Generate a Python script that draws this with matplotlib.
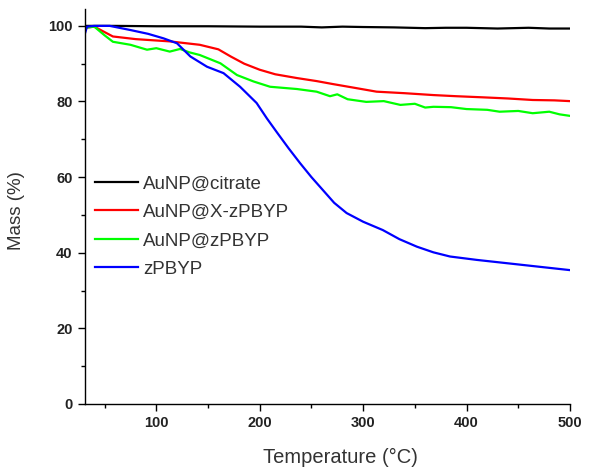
import matplotlib.pyplot as plt
from matplotlib.ticker import MultipleLocator

plt.rcParams["font.family"] = ["Liberation Sans", "DejaVu Sans"]

# temperatures (°C) and mass (%)
t_citrate = [31, 60, 100, 150, 200, 240, 260, 280, 300, 330, 360, 380, 400, 430, 460, 480, 500]
m_citrate = [100, 100, 99.9, 99.9, 99.8, 99.8, 99.6, 99.8, 99.7, 99.6, 99.4, 99.5, 99.5, 99.3, 99.5, 99.3, 99.3]

t_xz = [31, 40, 58, 80, 113, 142, 160, 172, 185, 200, 215, 236, 255, 271, 290, 313, 340, 368, 390, 416, 440, 464, 485, 500]
m_xz = [99.5, 99.8, 97.2, 96.5, 95.9, 95.0, 93.8, 91.9, 90.0, 88.4, 87.2, 86.2, 85.4, 84.6, 83.7, 82.6, 82.2, 81.7, 81.4, 81.1, 80.8, 80.4, 80.3, 80.1]

t_z = [31, 40, 50, 58, 75, 91, 100, 113, 123, 132, 142, 162, 178, 194, 210, 236, 255, 268, 275, 285, 303, 320, 336, 350, 360, 368, 385, 400, 420, 432, 450, 464, 480, 490, 500]
m_z = [99.5, 99.8, 97.5, 95.8, 95.0, 93.7, 94.1, 93.2, 93.9, 93.0, 92.3, 90.1, 87.0, 85.3, 83.9, 83.3, 82.6, 81.4, 81.9, 80.6, 79.9, 80.1, 79.1, 79.4, 78.4, 78.6, 78.5, 78.0, 77.8, 77.3, 77.5, 76.9, 77.3, 76.6, 76.2]

t_zpbyp = [31, 33, 40, 55, 75, 92, 107, 120, 133, 149, 165, 181, 197, 207, 217, 228, 239, 250, 261, 272, 284, 300, 319, 335, 352, 368, 384, 410, 440, 470, 500]
m_zpbyp = [98.0, 99.8, 100, 100, 98.9, 97.9, 96.7, 95.4, 91.9, 89.2, 87.5, 83.9, 79.6, 75.5, 71.7, 67.6, 63.7, 60.0, 56.6, 53.2, 50.5, 48.2, 46.0, 43.6, 41.6, 40.1, 39.0, 38.1, 37.2, 36.3, 35.4]

series = [
    ("AuNP@citrate", t_citrate, m_citrate, "black"),
    ("AuNP@X-zPBYP", t_xz, m_xz, "#ff0000"),
    ("AuNP@zPBYP", t_z, m_z, "#00ff00"),
    ("zPBYP", t_zpbyp, m_zpbyp, "#0000ff"),
]

fig = plt.figure(figsize=(5.9, 4.67), dpi=100)
ax = fig.add_axes([0.144, 0.135, 0.822, 0.846])

for label, t, m, c in series:
    ax.plot(t, m, color=c, lw=1.6, label=label)

ax.set_xlim(31, 500)
ax.set_ylim(0, 104.5)
ax.xaxis.set_major_locator(MultipleLocator(100))
ax.xaxis.set_minor_locator(MultipleLocator(50))
ax.yaxis.set_major_locator(MultipleLocator(20))
ax.yaxis.set_minor_locator(MultipleLocator(10))

for side in ["top", "right"]:
    ax.spines[side].set_visible(False)
for side in ["left", "bottom"]:
    ax.spines[side].set_linewidth(1.0)

ax.tick_params(which="major", direction="out", length=5, width=1, labelsize=10.5,
               pad=4, labelcolor="#222222")
ax.tick_params(which="minor", direction="out", length=3, width=1)
for lab in ax.get_xticklabels() + ax.get_yticklabels():
    lab.set_fontweight("bold")

ax.set_xlabel("Temperature (°C)", fontsize=14.5, color="#333333")
ax.set_ylabel("Mass (%)", fontsize=13.5, color="#333333")
ax.xaxis.set_label_coords(0.526, -0.111)
ax.yaxis.set_label_coords(-0.124, 0.49)

leg = ax.legend(loc="center left", bbox_to_anchor=(0.021, 0.449), frameon=False,
                fontsize=13.5, handlelength=2.3, handletextpad=0.27, labelspacing=0.6,
                borderpad=0, borderaxespad=0)
for txt in leg.get_texts():
    txt.set_color("#333333")

fig.savefig("out.png", dpi=100)
